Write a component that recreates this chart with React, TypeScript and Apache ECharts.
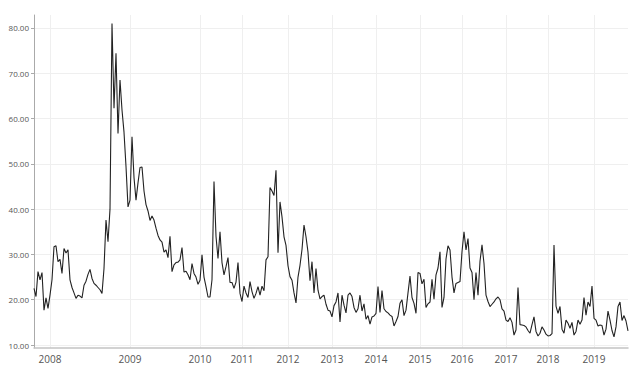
import React, { useEffect, useRef } from "react";
import * as echarts from "echarts";

// Weekly closing values, grouped by the year they fall in
const pre2008 = [22.5, 20.7, 26.2, 24.4, 26.0, 17.7, 20.4, 18.1];
const y2008 = [21.0, 24.4, 31.7, 31.9, 28.4, 28.9, 25.8, 31.3, 30.3, 31.0, 24.4, 22.7, 21.5, 20.3, 21.0, 20.8, 20.4, 23.2, 24.1, 25.6, 26.7, 24.7, 23.6, 23.2, 22.7, 22.2, 21.4, 26.9, 37.6, 32.8, 40.0, 81.0, 62.3, 74.4, 56.7, 68.5, 61.9, 57.0, 49.4, 40.5];
const y2009 = [42.0, 56.0, 47.0, 42.0, 45.8, 49.2, 49.3, 44.0, 41.0, 39.6, 37.5, 38.5, 37.6, 35.8, 34.2, 33.2, 32.7, 30.5, 31.0, 29.3, 34.0, 26.2, 27.7, 28.2, 28.3, 28.8, 31.5, 26.1, 26.3, 25.5, 24.4, 28.0, 25.8, 25.0, 23.4];
const y2010 = [24.3, 29.9, 25.0, 22.9, 20.6, 20.6, 24.4, 46.1, 34.0, 29.1, 35.0, 28.2, 25.5, 27.3, 29.3, 23.8, 23.8, 22.5, 23.9, 28.2, 21.4];
const y2011 = [19.6, 23.0, 21.5, 20.5, 24.0, 21.8, 20.3, 21.4, 22.9, 21.0, 23.0, 22.0, 28.8, 29.5, 44.8, 44.0, 43.0, 48.6, 30.4, 41.6, 38.3, 33.9, 32.0];
const y2012 = [27.5, 25.1, 24.3, 21.5, 19.3, 25.0, 27.6, 31.1, 36.5, 33.9, 30.5, 24.2, 28.4, 21.5, 26.9, 22.1, 20.2, 20.7, 21.0, 19.0, 17.7, 17.5];
const y2013 = [16.2, 18.7, 19.5, 21.5, 15.1, 21.0, 18.8, 17.1, 21.0, 21.5, 20.7, 18.3, 17.2, 18.0, 21.0, 17.5, 19.1, 15.7, 16.5, 14.6, 16.2, 16.4];
const y2014 = [17.0, 22.9, 17.2, 22.0, 18.0, 17.4, 17.1, 16.6, 16.3, 14.2, 15.2, 16.3, 19.2, 20.0, 16.5, 17.7, 21.5, 25.2, 20.5, 19.2, 17.0, 26.0];
const y2015 = [25.8, 23.5, 24.5, 18.3, 19.1, 19.5, 24.5, 20.1, 25.5, 27.0, 30.6, 18.3, 20.5, 29.0, 31.9, 31.0, 25.0, 21.5, 23.6, 23.8, 24.0];
const y2016 = [30.6, 35.0, 31.0, 33.5, 27.0, 26.0, 20.0, 26.0, 21.0, 28.5, 32.1, 28.0, 21.0, 19.6, 18.5, 19.0, 19.5, 20.2, 20.6, 20.0, 18.0, 17.5];
const y2017 = [15.5, 15.2, 16.0, 15.0, 12.2, 13.3, 22.7, 14.5, 14.4, 14.3, 14.0, 13.2, 12.6, 14.5, 16.2, 13.0, 12.0, 12.6, 14.0, 13.3, 12.4];
const y2018 = [12.0, 12.1, 12.5, 32.1, 18.6, 17.0, 18.5, 13.5, 12.6, 15.5, 14.8, 13.7, 15.0, 12.2, 13.0, 15.5, 14.6, 15.5, 20.5, 16.6, 19.5, 18.5, 23.0];
const y2019 = [15.9, 15.5, 14.2, 14.4, 14.3, 12.2, 13.5, 17.5, 15.5, 13.2, 11.8, 14.0, 18.5, 19.5, 15.4, 16.5, 15.3, 13.1];

const segments = [pre2008, y2008, y2009, y2010, y2011, y2012, y2013, y2014, y2015, y2016, y2017, y2018, y2019];
const yearLabels = ["2008", "2009", "2010", "2011", "2012", "2013", "2014", "2015", "2016", "2017", "2018", "2019"];

const values: number[] = [];
const categories: string[] = [];
const yearStart = new Map<number, string>();
segments.forEach((seg, s) => {
  if (s > 0) yearStart.set(values.length, yearLabels[s - 1]);
  seg.forEach((v, k) => {
    categories.push(s === 0 ? `pre-${k}` : `${yearLabels[s - 1]}-${k}`);
    values.push(v);
  });
});

const FONT = "'Open Sans', sans-serif";

export default function App() {
  const ref = useRef<HTMLDivElement>(null);
  useEffect(() => {
    if (!ref.current) return;
    const chart = echarts.init(ref.current, undefined, { renderer: "svg" });
    const isYear = (i: number) => yearStart.has(i);
    chart.setOption({
      animation: false,
      backgroundColor: "#ffffff",
      grid: { left: 34, right: 13, top: 15, bottom: 24, containLabel: false },
      xAxis: {
        type: "category",
        data: categories,
        boundaryGap: false,
        axisLine: { show: true, lineStyle: { color: "#c4c4c4", width: 1.5 } },
        axisTick: { show: false },
        axisLabel: {
          interval: (i: number) => isYear(i),
          formatter: (_v: string, i: number) => yearStart.get(i) ?? "",
          color: "#555",
          fontSize: 10,
          fontFamily: FONT,
          margin: 6,
        },
        splitLine: {
          show: true,
          interval: (i: number) => isYear(i),
          lineStyle: { color: "#efefef", width: 1 },
        },
      },
      yAxis: {
        type: "value",
        min: 9.34,
        max: 82.87,
        splitNumber: 7,
        axisLine: { show: true, lineStyle: { color: "#aaaaaa", width: 1 } },
        axisTick: { show: true, length: 3, lineStyle: { color: "#aaaaaa" } },
        axisLabel: {
          formatter: (v: number) => v.toFixed(2),
          color: "#555",
          fontSize: 8,
          fontFamily: FONT,
          margin: 5,
          showMinLabel: false,
          showMaxLabel: false,
        },
        splitLine: {
          show: true,
          showMinLine: false,
          showMaxLine: false,
          lineStyle: { color: "#efefef", width: 1 },
        },
      },
      series: [
        {
          type: "line",
          data: values,
          symbol: "none",
          showSymbol: false,
          lineStyle: { color: "#222222", width: 1.1 },
          clip: false,
        },
      ],
    });
    return () => chart.dispose();
  }, []);
  return (
    <div
      ref={ref}
      style={{ position: "fixed", left: 0, top: 0, width: 641, height: 372 }}
    />
  );
}
